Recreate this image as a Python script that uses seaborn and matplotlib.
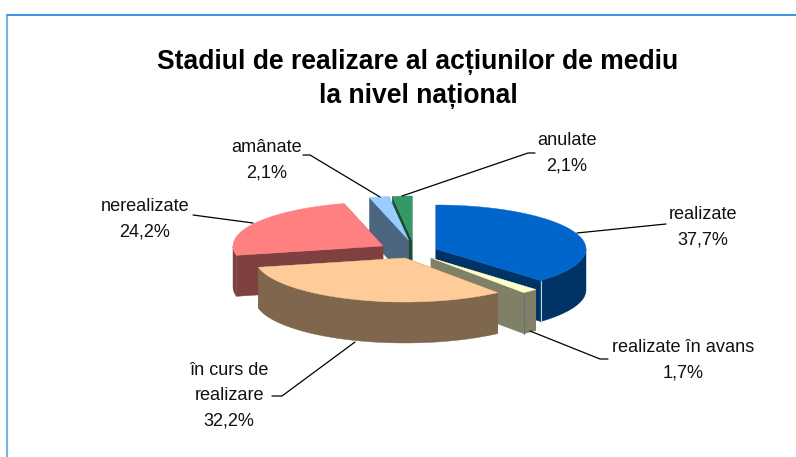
import numpy as np
import matplotlib
matplotlib.use('Agg')
import matplotlib.pyplot as plt
import seaborn as sns

# date
categorii = ["realizate", "realizate în avans", "în curs de\nrealizare", "nerealizate", "amânate", "anulate"]
valori = [37.7, 1.7, 32.2, 24.2, 2.1, 2.1]
titlu = "Stadiul de realizare al acțiunilor de mediu\nla nivel național"

culori_sus = ["#0066CC", "#FFFFCC", "#FFCC99", "#FF8080", "#99CCFF", "#339966"]
culori_lat = ["#003366", "#808066", "#7F674D", "#7F4040", "#4D6680", "#1A4D33"]

# geometria pie-ului (pixeli)
centru = (410, 250)
rx, ry, adancime = 150, 44, 41
explodare = [(26, -1), (21, 8), (-5, 8), (-27, -4), (-1.5, -10), (2, -10)]
ordine = [5, 4, 3, 0, 1, 2]  # din spate in fata

# pozitii etichete si linii de legatura
pozitii_text = [(703, 227), (683, 360), (229, 396), (145, 219), (267, 160), (567, 153)]
linii = [
    [(577, 233), (666, 224)],
    [(530, 331), (600, 359), (608, 359)],
    [(355, 342), (282, 396), (272, 396)],
    [(193, 215), (253, 223)],
    [(380, 197), (310, 155), (303, 155)],
    [(402, 196), (528, 153), (535, 153)],
]

sns.set_theme(style="white")
plt.rcParams['font.family'] = ['Liberation Sans', 'DejaVu Sans']

fig = plt.figure(figsize=(7.96, 4.57), dpi=100)
ax = fig.add_axes([0, 0, 1, 1])
ax.set_xlim(0, 796)
ax.set_ylim(457, 0)
ax.axis('off')


def punct(c, unghi):
    return c[0] + rx * np.sin(unghi), c[1] - ry * np.cos(unghi)


capete = np.radians(np.cumsum([0] + valori) / sum(valori) * 360)

for i in ordine:
    c = (centru[0] + explodare[i][0], centru[1] + explodare[i][1])
    start, stop = capete[i], capete[i + 1]
    t = np.linspace(start, stop, 80)
    xs, ys = punct(c, t)

    # peretii radiali
    for u in (start, stop):
        px, py = punct(c, u)
        ax.fill([c[0], px, px, c[0]], [c[1], py, py + adancime, c[1] + adancime],
                color=culori_lat[i], lw=0.3)
    # marginea exterioara, doar partea din fata
    a, b = max(start, np.pi / 2), min(stop, 3 * np.pi / 2)
    if b > a:
        xr, yr = punct(c, np.linspace(a, b, 80))
        ax.fill(np.r_[xr, xr[::-1]], np.r_[yr, yr[::-1] + adancime], color=culori_lat[i], lw=0.3)
    # fata de sus
    ax.fill(np.r_[c[0], xs], np.r_[c[1], ys], color=culori_sus[i], lw=0.3)

    # linia subtire de la colt
    if i in (0, 1):
        px, py = punct(c, stop)
        ax.plot([px, px], [py, py + adancime], color="#C8D4E0" if i == 0 else "#5F6F80", lw=0.8)

# cadrul
ax.plot([7, 7], [457, 14], color="#7DB3E3", lw=1.6, solid_capstyle='butt')
ax.plot([7, 796], [14.5, 14.5], color="#3D94E8", lw=1.4, solid_capstyle='butt')

ax.text(418, 79, titlu, ha='center', va='center', fontsize=19.1, fontweight='bold',
        color='black', linespacing=1.39)

for nume, v, (tx, ty), linie in zip(categorii, valori, pozitii_text, linii):
    eticheta = f"{nume}\n{v:.1f}%".replace('.', ',')
    ax.text(tx, ty, eticheta, ha='center', va='center', fontsize=13.1, color='#111111', linespacing=1.62)
    lx, ly = zip(*linie)
    ax.plot(lx, ly, color='black', lw=0.9)

fig.savefig('out.png', dpi=100, facecolor='white')
plt.close(fig)
